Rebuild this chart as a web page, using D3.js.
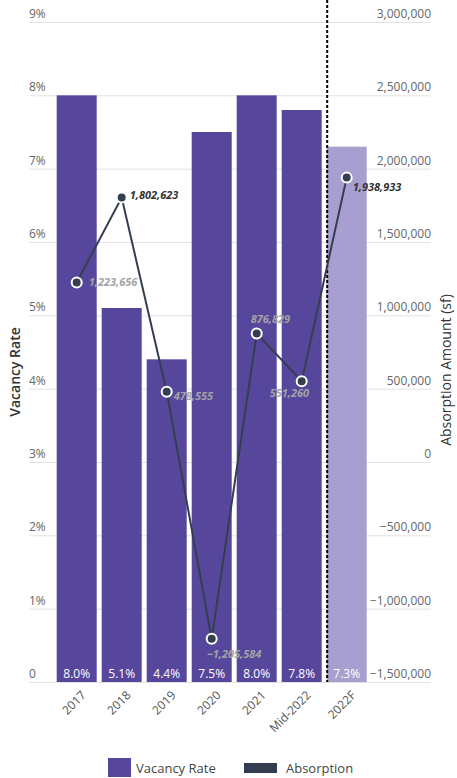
<!DOCTYPE html>
<html>
<head>
<meta charset="utf-8">
<script src="https://cdn.jsdelivr.net/npm/d3@7"></script>
<style>
    html, body { margin: 0; padding: 0; background: #fff; }
    svg { display: block; font-family: "Open Sans", sans-serif; }
</style>
</head>
<body>
<svg id="chart" width="457" height="778"></svg>
<script>
// data
var categories = ["2017", "2018", "2019", "2020", "2021", "Mid-2022", "2022F"];
var vacancyRate = [8.0, 5.1, 4.4, 7.5, 8.0, 7.8, 7.3];
var absorption = [1223656, 1802623, 478555, -1205584, 876829, 551260, 1938933];
var leftTicks = [0, 1, 2, 3, 4, 5, 6, 7, 8, 9];
var rightTicks = [-1500000, -1000000, -500000, 0, 500000, 1000000, 1500000, 2000000, 2500000, 3000000];
var forecastCategory = "2022F";

// label placement around each point: [dx, dy]
var labelPlace = [[12, 0], [8, -2], [7, 4], [-5, 15], [-6, -14], [-32, 12], [6, 10]];
// which labels are drawn dark (the rest are grey)
var labelDark = [false, true, false, false, false, false, true];

var purple = "#56479d";
var lightPurple = "#a89fd1";
var navy = "#333f50";

var svg = d3.select("#chart");

var x = d3.scaleBand()
    .domain(categories)
    .range([54.2, 369.2])
    .paddingInner(5 / 45)
    .paddingOuter(2.5 / 45);

var yLeft = d3.scaleLinear().domain([0, 9]).range([682, 22]);
var yRight = d3.scaleLinear().domain([-1500000, 3000000]).range([682, 22]);

var gridLeft = 29, gridRight = 431;

// gridlines
svg.append("g")
    .selectAll("line")
    .data(leftTicks)
    .enter()
    .append("line")
    .attr("x1", gridLeft)
    .attr("x2", gridRight)
    .attr("y1", function (d) { return yLeft(d) + 0.5; })
    .attr("y2", function (d) { return yLeft(d) + 0.5; })
    .attr("stroke", "#e2e2e2")
    .attr("stroke-width", 1);

// left tick labels
svg.append("g")
    .selectAll("text")
    .data(leftTicks)
    .enter()
    .append("text")
    .attr("x", gridLeft)
    .attr("y", function (d) { return yLeft(d) - 4; })
    .attr("fill", "#666")
    .style("font-size", "12px")
    .text(function (d) { return d === 0 ? "0" : d + "%"; });

// right tick labels
var fmt = d3.format(",");
svg.append("g")
    .selectAll("text")
    .data(rightTicks)
    .enter()
    .append("text")
    .attr("x", gridRight)
    .attr("y", function (d) { return yRight(d) - 4; })
    .attr("text-anchor", "end")
    .attr("fill", "#666")
    .style("font-size", "12px")
    .text(function (d) { return fmt(d); });

// bars
var bars = categories.map(function (c, i) { return { cat: c, value: vacancyRate[i] }; });

svg.append("g")
    .selectAll("rect")
    .data(bars)
    .enter()
    .append("rect")
    .attr("x", function (d) { return x(d.cat); })
    .attr("width", x.bandwidth())
    .attr("y", function (d) { return yLeft(d.value); })
    .attr("height", function (d) { return yLeft(0) - yLeft(d.value); })
    .attr("fill", function (d) { return d.cat === forecastCategory ? lightPurple : purple; });

// bar value labels
svg.append("g")
    .selectAll("text")
    .data(bars)
    .enter()
    .append("text")
    .attr("x", function (d) { return x(d.cat) + x.bandwidth() / 2; })
    .attr("y", yLeft(0) - 4)
    .attr("text-anchor", "middle")
    .attr("fill", "#fff")
    .style("font-size", "12px")
    .text(function (d) { return d.value.toFixed(1) + "%"; });

// forecast divider
var divX = x(forecastCategory) + 0.5;
svg.append("line")
    .attr("x1", divX).attr("x2", divX)
    .attr("y1", 0).attr("y2", yLeft(0))
    .attr("stroke", "#000")
    .attr("stroke-width", 2)
    .attr("stroke-dasharray", "3,2");

// absorption line
var pts = categories.map(function (c, i) {
    return {
        cat: c, value: absorption[i],
        x: x(c) + x.bandwidth() / 2, y: yRight(absorption[i]),
        place: labelPlace[i], dark: labelDark[i]
    };
});

svg.append("path")
    .datum(pts)
    .attr("fill", "none")
    .attr("stroke", navy)
    .attr("stroke-width", 2)
    .attr("d", d3.line().x(function (d) { return d.x; }).y(function (d) { return d.y; }));

svg.append("g")
    .selectAll("circle")
    .data(pts)
    .enter()
    .append("circle")
    .attr("cx", function (d) { return d.x; })
    .attr("cy", function (d) { return d.y; })
    .attr("r", 5)
    .attr("fill", navy)
    .attr("stroke", "#fff")
    .attr("stroke-width", 2);

svg.append("g")
    .selectAll("text")
    .data(pts)
    .enter()
    .append("text")
    .attr("x", function (d) { return d.x + d.place[0]; })
    .attr("y", function (d) { return d.y + d.place[1]; })
    .attr("dy", "0.35em")
    .attr("fill", function (d) { return d.dark ? "#333" : "#a3a3a3"; })
    .style("font-size", "11px")
    .style("font-weight", "bold")
    .style("font-style", "italic")
    .text(function (d) { return fmt(d.value); });

// x labels
svg.append("g")
    .selectAll("text")
    .data(categories)
    .enter()
    .append("text")
    .attr("transform", function (d) {
        return "translate(" + (x(d) + x.bandwidth() / 2 + 7) + "," + 693 + ") rotate(-45)";
    })
    .attr("text-anchor", "end")
    .attr("dy", "0.35em")
    .attr("fill", "#555")
    .style("font-size", "12px")
    .text(function (d) { return d; });

// axis titles
svg.append("text")
    .attr("transform", "translate(15,372) rotate(-90)")
    .attr("text-anchor", "middle")
    .attr("dy", "0.35em")
    .attr("fill", "#333")
    .style("font-size", "14px")
    .style("font-weight", "600")
    .text("Vacancy Rate");

svg.append("text")
    .attr("transform", "translate(446,370) rotate(-90)")
    .attr("text-anchor", "middle")
    .attr("dy", "0.35em")
    .attr("fill", "#333")
    .style("font-size", "14px")
    .style("font-weight", "500")
    .text("Absorption Amount (sf)");

// legend
var legend = svg.append("g");
legend.append("rect")
    .attr("x", 108).attr("y", 758).attr("width", 23).attr("height", 19)
    .attr("fill", purple);
legend.append("text")
    .attr("x", 136).attr("y", 768).attr("dy", "0.35em")
    .attr("fill", "#444").style("font-size", "13px")
    .text("Vacancy Rate");
legend.append("rect")
    .attr("x", 244).attr("y", 763).attr("width", 33).attr("height", 10)
    .attr("fill", navy);
legend.append("text")
    .attr("x", 286).attr("y", 768).attr("dy", "0.35em")
    .attr("fill", "#444").style("font-size", "13px")
    .text("Absorption");
</script>
</body>
</html>
